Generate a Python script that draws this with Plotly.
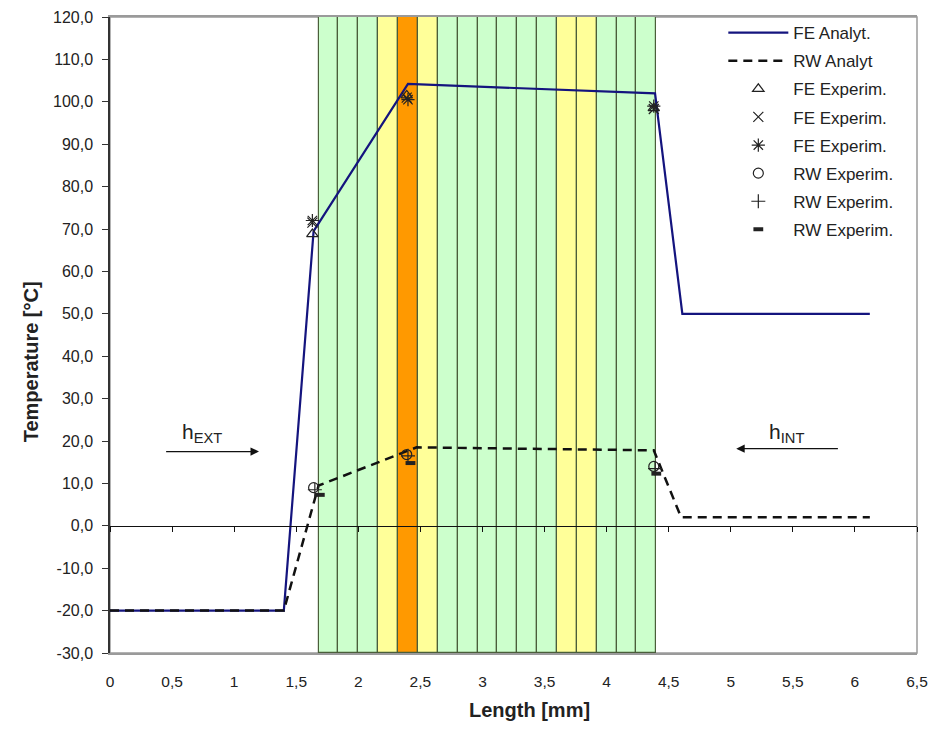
import plotly.graph_objects as go

# ---------------- data ----------------
fe_analyt_x = [0, 1.40, 1.64, 2.40, 4.39, 4.61, 6.12]
fe_analyt_y = [-20, -20, 69.5, 104.2, 102.0, 50.0, 50.0]

rw_analyt_x = [0, 1.40, 1.68, 2.47, 4.38, 4.60, 6.12]
rw_analyt_y = [-20, -20, 9.5, 18.5, 17.8, 2.0, 2.0]

fe_tri_x = [1.63, 2.39, 4.38]
fe_tri_y = [68.8, 101.5, 98.5]
fe_x_x = [1.63, 2.39, 4.38]
fe_x_y = [71.5, 101.0, 98.3]
fe_ast_x = [1.63, 2.40, 4.38]
fe_ast_y = [72.0, 100.5, 99.0]
rw_circ_x = [1.64, 2.39, 4.38]
rw_circ_y = [9.0, 16.8, 14.0]
rw_plus_x = [1.65, 2.40, 4.39]
rw_plus_y = [8.5, 16.5, 13.5]
rw_minus_x = [1.69, 2.42, 4.40]
rw_minus_y = [7.3, 14.8, 12.3]

# layers (strips) of the wall
layer_start = 1.68
layer_thickness = 0.16
layer_kind = ["g", "g", "g", "y", "o", "y", "g", "g", "g", "g", "g", "g",
              "y", "y", "g", "g", "g"]
kind_colour = {"g": "#ccffcc", "y": "#ffff99", "o": "#ff9900"}

x_ticks = [0, 0.5, 1, 1.5, 2, 2.5, 3, 3.5, 4, 4.5, 5, 5.5, 6, 6.5]
y_ticks = [-30, -20, -10, 0, 10, 20, 30, 40, 50, 60, 70, 80, 90, 100, 110, 120]
y_tick_labels = ["-30,0", "-20,0", "-10,0", "0,0", "10,0", "20,0", "30,0", "40,0",
                 "50,0", "60,0", "70,0", "80,0", "90,0", "100,0", "110,0", "120,0"]
y_min, y_max = -30, 120

# ---------------- figure ----------------
FONT = "Liberation Sans, Arial, sans-serif"
TXT = "#222222"
PAGE = 8  # default body margin of the html page

centers = [layer_start + layer_thickness * (i + 0.5) for i in range(len(layer_kind))]
fig = go.Figure()
fig.add_trace(go.Bar(
    x=centers, y=[y_max - y_min] * len(layer_kind), base=y_min,
    width=layer_thickness,
    marker=dict(color=[kind_colour[k] for k in layer_kind],
                line=dict(color="#4a5e3a", width=1.2)),
    showlegend=False, hoverinfo="skip"))

gi = [0]
def grp():
    gi[0] += 1
    return "g%d" % gi[0]

fig.add_trace(go.Scatter(x=fe_analyt_x, y=fe_analyt_y, mode="lines", name="FE Analyt.",
                         legendgroup=grp(),
                         line=dict(color="#14147e", width=2.2)))
fig.add_trace(go.Scatter(x=rw_analyt_x, y=rw_analyt_y, mode="lines", name="RW Analyt",
                         legendgroup=grp(),
                         line=dict(color="#111111", width=2.5, dash="9px,6px")))
fig.add_trace(go.Scatter(x=fe_tri_x, y=fe_tri_y, mode="markers", name="FE Experim.",
                         legendgroup=grp(),
                         marker=dict(symbol="triangle-up-open", size=10, color=TXT,
                                     line=dict(width=1.2, color=TXT))))
fig.add_trace(go.Scatter(x=fe_x_x, y=fe_x_y, mode="markers", name="FE Experim.",
                         legendgroup=grp(),
                         marker=dict(symbol="x-thin-open", size=10, color=TXT,
                                     line=dict(width=1.2, color=TXT))))
fig.add_trace(go.Scatter(x=fe_ast_x, y=fe_ast_y, mode="markers", name="FE Experim.",
                         legendgroup=grp(),
                         marker=dict(symbol="asterisk-open", size=11, color=TXT,
                                     line=dict(width=1.2, color=TXT))))
fig.add_trace(go.Scatter(x=rw_circ_x, y=rw_circ_y, mode="markers", name="RW Experim.",
                         legendgroup=grp(),
                         marker=dict(symbol="circle-open", size=10, color=TXT,
                                     line=dict(width=1.2, color=TXT))))
fig.add_trace(go.Scatter(x=rw_plus_x, y=rw_plus_y, mode="markers", name="RW Experim.",
                         legendgroup=grp(),
                         marker=dict(symbol="cross-thin-open", size=10, color=TXT,
                                     line=dict(width=1.2, color=TXT))))
fig.add_trace(go.Scatter(x=rw_minus_x, y=rw_minus_y, mode="markers", name="RW Experim.",
                         legendgroup=grp(), xaxis="x2",
                         marker=dict(symbol="line-ew-open", size=7, color=TXT,
                                     line=dict(width=4, color=TXT))))

W = 938 - PAGE
fig.update_layout(
    width=W, height=730 - 2 * PAGE,
    margin=dict(l=110 - PAGE, r=W - (917 - PAGE), t=17 - PAGE, b=730 - PAGE - 653,
                autoexpand=False),
    paper_bgcolor="white", plot_bgcolor="white",
    separators=",.",
    bargap=0,
    font=dict(family=FONT, color=TXT, size=16),
    xaxis=dict(range=[0, 6.5], tickvals=x_ticks, ticks="", showgrid=False,
               zeroline=False, showline=True, linecolor="#9a9a9a", linewidth=1.5,
               mirror=True, ticklabelstandoff=14, automargin=False,
               ticklabeloverflow="allow",
               tickfont=dict(family=FONT, size=15.5, color=TXT)),
    xaxis2=dict(matches="x", overlaying="x", anchor="free",
                position=(0 - y_min) / (y_max - y_min), automargin=False,
                tickvals=x_ticks, ticks="outside", ticklen=5, tickcolor="#111",
                showticklabels=False, showgrid=False, zeroline=False,
                showline=True, linecolor="#111111", linewidth=1.3),
    yaxis=dict(range=[y_min, y_max], tickvals=y_ticks, ticktext=y_tick_labels,
               ticks="outside", automargin=False, ticklabeloverflow="allow",
               ticklen=6, tickcolor="#333", showgrid=False, zeroline=False,
               showline=True, linecolor="#333333", linewidth=1.5,
               ticklabelstandoff=6,
               tickfont=dict(family=FONT, size=16, color=TXT)),
    legend=dict(x=0.76, y=1.003, xanchor="left", yanchor="top",
                bgcolor="rgba(255,255,255,0)", borderwidth=0,
                itemwidth=60, tracegroupgap=3,
                font=dict(family=FONT, size=17, color=TXT)),
    shapes=[dict(type="rect", xref="paper", yref="paper", x0=0, x1=1, y0=0, y1=1,
                 line=dict(color="#9a9a9a", width=1.5), layer="below")],
    annotations=[
        dict(text="<b>Temperature [°C]</b>", xref="paper", yref="paper",
             x=-0.114, y=0.457, textangle=-90, showarrow=False,
             font=dict(family=FONT, size=20, color=TXT)),
        dict(text="<b>Length [mm]</b>", xref="paper", yref="paper",
             x=0.52, y=-0.09, showarrow=False, yanchor="middle",
             font=dict(family=FONT, size=20, color=TXT)),
        dict(text="h<sub>EXT</sub>", x=0.743, y=22.0, xref="x", yref="y",
             showarrow=False, font=dict(family=FONT, size=21, color=TXT)),
        dict(text="h<sub>INT</sub>", x=5.452, y=22.0, xref="x", yref="y",
             showarrow=False, font=dict(family=FONT, size=21, color=TXT)),
        dict(text="", x=1.20, y=17.5, ax=0.44, ay=17.5, xref="x", yref="y",
             axref="x", ayref="y", showarrow=True, arrowhead=2, arrowsize=1.3,
             arrowwidth=1.3, arrowcolor="#111"),
        dict(text="", x=5.044, y=18.2, ax=5.875, ay=18.2, xref="x", yref="y",
             axref="x", ayref="y", showarrow=True, arrowhead=2, arrowsize=1.3,
             arrowwidth=1.3, arrowcolor="#111"),
    ],
)

fig.write_html("out.html")
